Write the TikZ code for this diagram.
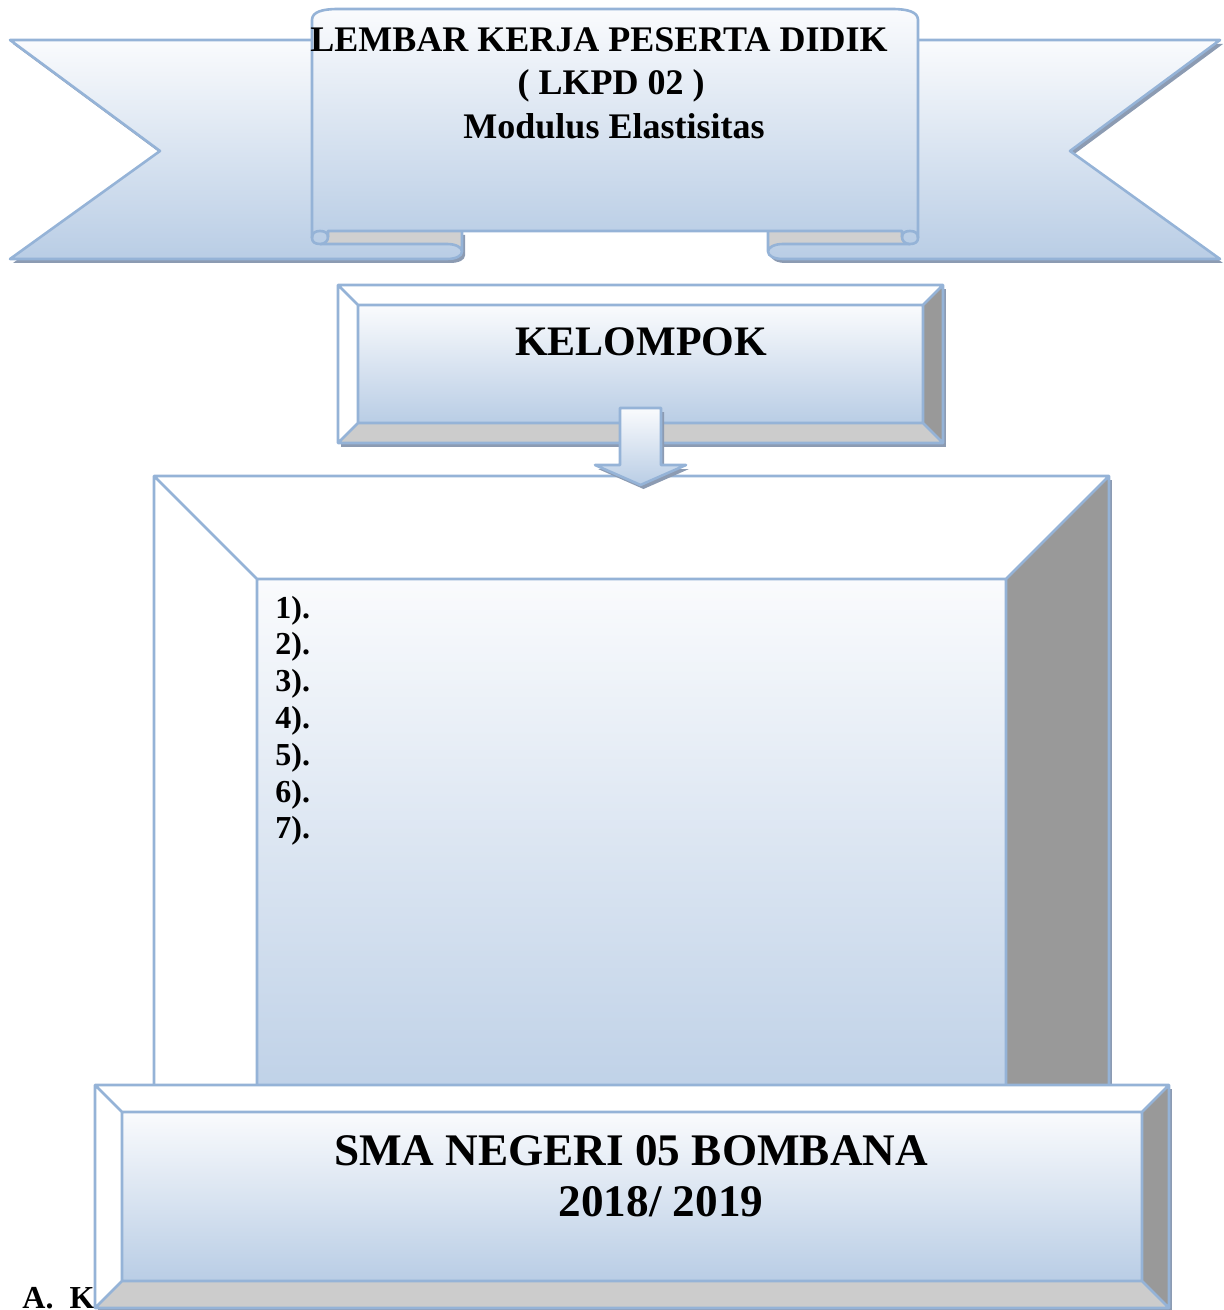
\documentclass[tikz,border=0pt]{standalone}
\usepackage{fontspec}
\setmainfont{Liberation Serif}
\definecolor{cEDGE}{RGB}{149,179,215}
\definecolor{cTOP}{RGB}{250,251,253}
\definecolor{cBOT}{RGB}{185,205,229}
\definecolor{cFOLD}{RGB}{208,208,208}
\definecolor{cBEVLO}{RGB}{204,204,204}
\definecolor{cBEVRT}{RGB}{153,153,153}
\definecolor{cSHADOW}{RGB}{140,155,178}

\tikzset{
  edge/.style={draw=cEDGE, line width=1.3pt, line join=round},
  panelshade/.style={top color=cTOP, bottom color=cBOT},
  dropshadow/.style={preaction={fill=cSHADOW, transform canvas={xshift=1.5pt,yshift=-2pt}}},
  titletxt/.style={font=\fontsize{18}{21.6}\selectfont\bfseries, anchor=base, inner sep=0pt},
  headtxt/.style={font=\fontsize{21}{25}\selectfont\bfseries, anchor=base, inner sep=0pt},
  listtxt/.style={font=\fontsize{16}{19}\selectfont\bfseries, anchor=base west, inner sep=0pt},
  schooltxt/.style={font=\fontsize{22.6}{27}\selectfont\bfseries, anchor=base, inner sep=0pt}
}

% bevel box: x1, y1, x2, y2, bevel
\newcommand{\bevelbox}[5]{%
  \path[fill=white, dropshadow] (#1,#2) rectangle (#3,#4);
  \fill[cBEVLO] (#1,#4) -- (#3,#4) -- (#3-#5,#4-#5) -- (#1+#5,#4-#5) -- cycle;
  \fill[cBEVRT] (#3,#2) -- (#3,#4) -- (#3-#5,#4-#5) -- (#3-#5,#2+#5) -- cycle;
  \shade[panelshade] (#1+#5,#2+#5) rectangle (#3-#5,#4-#5);
  \draw[edge] (#1,#2) rectangle (#3,#4) (#1+#5,#2+#5) rectangle (#3-#5,#4-#5)
    (#1,#2) -- (#1+#5,#2+#5) (#3,#2) -- (#3-#5,#2+#5)
    (#1,#4) -- (#1+#5,#4-#5) (#3,#4) -- (#3-#5,#4-#5);
}

\begin{document}
\begin{tikzpicture}[x=0.5pt,y=-0.5pt]
\useasboundingbox (0,0) rectangle (1224,1310);

% ribbon: tails
\path[panelshade, dropshadow] (312,40) -- (10,40) -- (160,151) -- (10,259) -- (447,259) .. controls (456,259) and (462,256) .. (462,251.5) -- (462,231) -- (312,231) -- cycle;
\path[panelshade, dropshadow] (918,40) -- (1220,40) -- (1070,151) -- (1220,259) -- (783,259) .. controls (774,259) and (768,256) .. (768,251.5) -- (768,231) -- (918,231) -- cycle;
\fill[cFOLD] (318,231) -- (462,231) -- (462,251.5) .. controls (462,247.5) and (456,244) .. (447,244) -- (318,244) -- cycle;
\fill[cFOLD] (912,231) -- (768,231) -- (768,251.5) .. controls (768,247.5) and (774,244) .. (783,244) -- (912,244) -- cycle;
\draw[edge] (312,40) -- (10,40) -- (160,151) -- (10,259) -- (447,259) .. controls (456,259) and (462,256) .. (462,251.5) -- (462,231)
  (462,251.5) .. controls (462,247.5) and (456,244) .. (447,244) -- (320,244);
\draw[edge] (918,40) -- (1220,40) -- (1070,151) -- (1220,259) -- (783,259) .. controls (774,259) and (768,256) .. (768,251.5) -- (768,231)
  (768,251.5) .. controls (768,247.5) and (774,244) .. (783,244) -- (910,244);

% ribbon: middle panel
\path[panelshade, edge] (312,238) -- (312,20) .. controls (312,12) and (322,9) .. (338,9) -- (892,9) .. controls (908,9) and (918,12) .. (918,20)
  -- (918,238) .. controls (918,242) and (915,244) .. (910,244) .. controls (905,244) and (902,241) .. (902,237) -- (902,231)
  -- (328,231) -- (328,237) .. controls (328,241) and (325,244) .. (320,244) .. controls (315,244) and (312,242) .. (312,238) -- cycle;
\draw[edge] (312,238) .. controls (312,233) and (315,231) .. (320,231) .. controls (325,231) and (328,233) .. (328,237);
\draw[edge] (918,238) .. controls (918,233) and (915,231) .. (910,231) .. controls (905,231) and (902,233) .. (902,237);

\node[titletxt] (title1) at (599,52) {LEMBAR KERJA PESERTA DIDIK};
\node[titletxt] (title2) at (611,95) {( LKPD 02 )};
\node[titletxt] (title3) at (614,139) {Modulus Elastisitas};

% group box
\bevelbox{338}{285}{943}{443}{20}
\node[headtxt] (kelompok) at (641,356) {KELOMPOK};

% member box
\bevelbox{154}{476}{1109}{1250}{103}
\foreach \n in {1,...,7}
  \node[listtxt] (item\n) at (275,{618+(\n-1)*36.8}) {\n).};

% arrow
\path[panelshade, edge, dropshadow] (620,408) -- (661,408) -- (661,465) -- (686,465) -- (640.5,485) -- (595,465) -- (620,465) -- cycle;

\node[listtxt] (akop) at (22,1308) {A.~~K};

% school box
\bevelbox{95}{1085}{1169}{1308}{27}
\node[schooltxt] (school1) at (631,1165) {SMA NEGERI 05 BOMBANA};
\node[schooltxt] (school2) at (661,1216) {2018/ 2019};
\end{tikzpicture}
\end{document}
